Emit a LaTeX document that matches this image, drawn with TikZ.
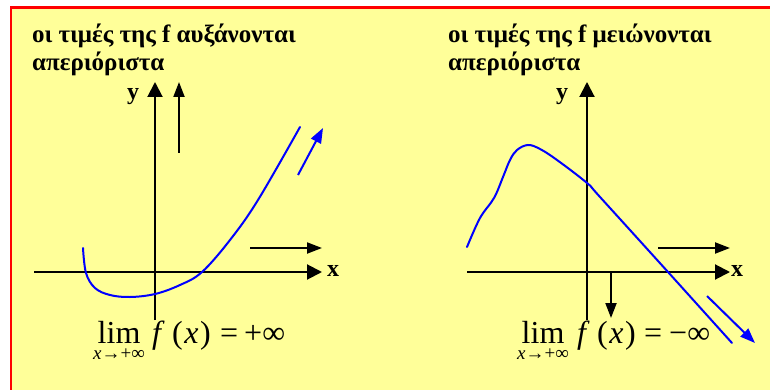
\documentclass[tikz,border=0pt]{standalone}
\usepackage{fontspec}
\setmainfont{Liberation Serif}
\usetikzlibrary{arrows.meta}
\definecolor{bgyellow}{HTML}{FFFF99}
\definecolor{framered}{HTML}{FF0000}
\definecolor{curveblue}{HTML}{0000FF}
\newsavebox\limsubbox
\newcommand\limbelow[1]{%
  \sbox\limsubbox{\fontsize{19}{22}\selectfont #1}%
  \vtop{\baselineskip=16pt\lineskiplimit=-100pt\lineskip=0pt
    \hbox to \wd\limsubbox{\hss lim\hss}\hbox{\usebox\limsubbox}}}
\begin{document}
\begin{tikzpicture}[x=1pt,y=-1pt,
  axis/.style={line width=2pt,-{Triangle[length=15pt,width=15pt]}},
  hint/.style={line width=2pt,-{Triangle[length=15pt,width=11pt]}},
  curve/.style={line width=2pt,curveblue,line cap=round},
  bluehint/.style={line width=2pt,curveblue,-{Triangle[length=15pt,width=11pt]}},
  title/.style={font=\fontsize{25}{28}\selectfont\bfseries,anchor=base west,inner sep=0pt},
  axlabel/.style={font=\fontsize{24}{28}\selectfont\bfseries,anchor=base west,inner sep=0pt},
  formula/.style={font=\fontsize{32}{36}\selectfont,anchor=base west,inner sep=0pt}]
\useasboundingbox (0,0) rectangle (770,390);
\begin{scope}
\clip (0,0) rectangle (770,390);
\draw[framered,line width=2.5pt,fill=bgyellow] (11,7.5) rectangle (790,410);
\end{scope}

% ---------- left panel ----------
\node[title] (t1a) at (32,43) {οι τιμές της f αυξάνονται};
\node[title] (t1b) at (32,71) {απεριόριστα};

\coordinate (lyb) at (155,320); \coordinate (lyt) at (155,82);
\coordinate (lxl) at (34,272);  \coordinate (lxr) at (322,272);
\draw[axis] (lyb) -- (lyt);
\draw[axis] (lxl) -- (lxr);
\node[axlabel] (ly) at (127,100) {y};
\node[axlabel] (lx) at (327,276) {x};

\coordinate (la1) at (179,153); \coordinate (la2) at (179,82);
\draw[hint] (la1) -- (la2);
\coordinate (lh1) at (250,248); \coordinate (lh2) at (322,248);
\draw[hint] (lh1) -- (lh2);

\draw[curve] plot[smooth,tension=0.6] coordinates
  {(83,248) (86,273) (95,288) (110,295) (130,297) (155,294) (180,285) (202,272) (230,240) (258,200) (300,127)};
\coordinate (lb1) at (298,175); \coordinate (lb2) at (323,128);
\draw[bluehint] (lb1) -- (lb2);

\node[formula] (lim1) at (93,343) {\limbelow{\itshape x\upshape→+∞}};
\node[formula] (f1) at (152,343) {\itshape f};
\node[formula] (px1) at (172,343) {(\kern1.5pt\itshape x\/\upshape\kern1.5pt)};
\node[formula] (eq1) at (220,343) {=};
\node[formula] (inf1) at (244,343) {+∞};

% ---------- right panel ----------
\node[title] (t2a) at (448,43) {οι τιμές της f μειώνονται};
\node[title] (t2b) at (448,71) {απεριόριστα};

\coordinate (ryb) at (587,320); \coordinate (ryt) at (587,82);
\coordinate (rxl) at (467,272); \coordinate (rxr) at (730,272);
\draw[axis] (ryb) -- (ryt);
\draw[axis] (rxl) -- (rxr);
\node[axlabel] (ry) at (556,100) {y};
\node[axlabel] (rx) at (731,276) {x};

\coordinate (rh1) at (658,248); \coordinate (rh2) at (730,248);
\draw[hint] (rh1) -- (rh2);
\coordinate (rd1) at (611,272); \coordinate (rd2) at (611,318);
\draw[hint] (rd1) -- (rd2);

\draw[curve] plot[smooth,tension=0.6] coordinates
  {(467,247) (480,218) (494,198) (503,177) (510,160) (517,150) (528,145) (540,149) (557,160) (587,183) (600,197) (668,272) (732,343)};
\coordinate (rb1) at (707,296); \coordinate (rb2) at (755,343);
\draw[bluehint] (rb1) -- (rb2);

\node[formula] (lim2) at (517,343) {\limbelow{\itshape x\upshape→+∞}};
\node[formula] (f2) at (577,343) {\itshape f};
\node[formula] (px2) at (597,343) {(\kern1.5pt\itshape x\/\upshape\kern1.5pt)};
\node[formula] (eq2) at (644,343) {=};
\node[formula] (inf2) at (669,343) {−∞};
\end{tikzpicture}
\end{document}
